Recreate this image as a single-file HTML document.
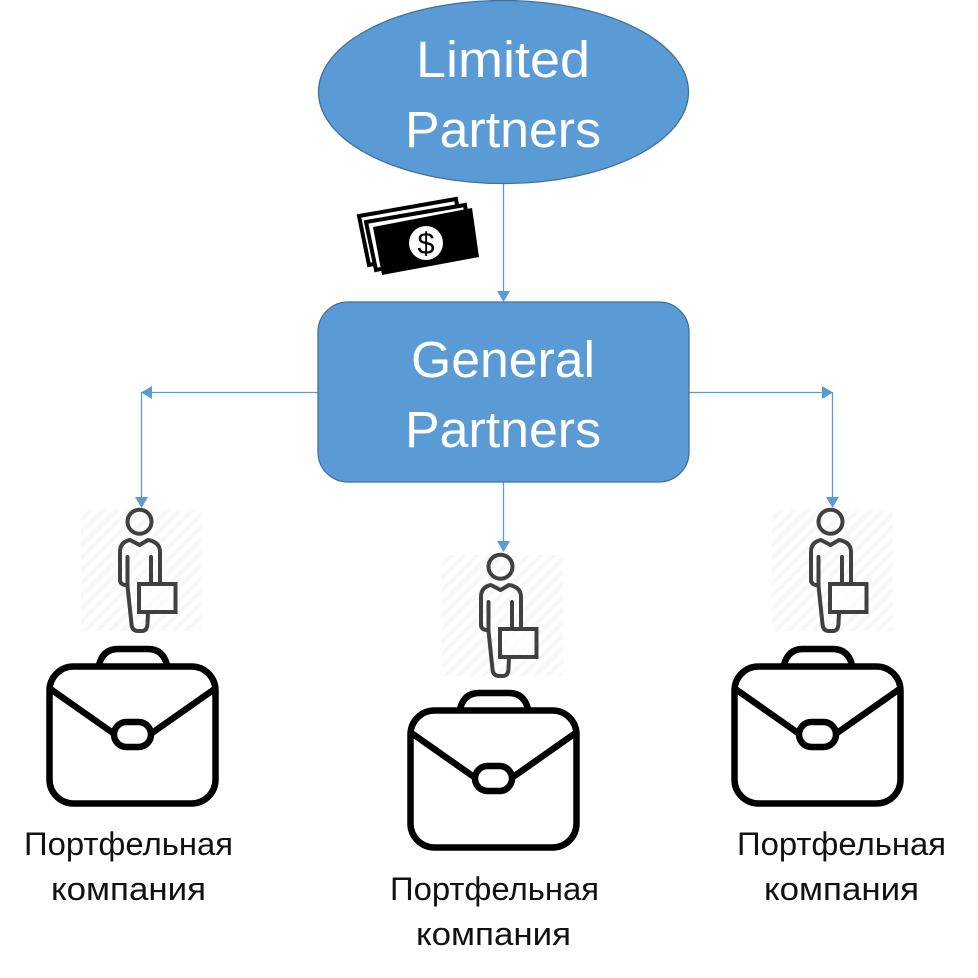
<!DOCTYPE html>
<html>
<head>
<meta charset="utf-8">
<style>
html,body{margin:0;padding:0;background:#fff;width:978px;height:978px;overflow:hidden}
svg{display:block}
text{font-family:"Liberation Sans","Noto Sans CJK JP",sans-serif}
.w{fill:#fff;font-size:51px}
.b{fill:#111;font-size:32px}
</style>
</head>
<body>
<svg width="978" height="978" viewBox="0 0 978 978" xmlns="http://www.w3.org/2000/svg">
<defs>
<pattern id="h" width="9" height="9" patternUnits="userSpaceOnUse" patternTransform="rotate(45)">
<rect width="9" height="9" fill="#fff"/>
<rect width="4" height="9" fill="#f7f7f7"/>
</pattern>
<g id="person">
<rect x="81" y="510" width="121" height="121" fill="url(#h)"/>
<circle cx="139.5" cy="521.7" r="12" fill="none" stroke="#404040" stroke-width="4"/>
<path d="M139.5 545 L130 540 Q120 542 120 552 L120 580 Q120 584 125 585 M139.5 545 L148 540 Q160 542 160 552 L160 584 M127.5 557 L127.5 586 L131.5 624 Q132 631 138 631 L142 631 Q147 631 147.500 624 L148 612 M151 557 L151 584" fill="none" stroke="#404040" stroke-width="4" stroke-linecap="round" stroke-linejoin="round"/>
<rect x="139" y="584" width="36.500" height="28" fill="#fff" fill-opacity="0.6" stroke="#404040" stroke-width="4"/>
</g>
<g id="case" fill="none" stroke="#000" stroke-width="6.500">
<path d="M99 665 Q103 649 118 649 L148 649 Q163 649 167 665"/>
<rect x="49.500" y="666.500" width="166" height="137" rx="24" fill="#fff"/>
<path d="M49 688 L113 733 M216 688 L152 733"/>
<rect x="114" y="722" width="37" height="25" rx="12.500" fill="#fff"/>
</g>
</defs>

<!-- connectors -->
<g fill="none" stroke="#5b9bd5" stroke-width="1.300">
<path d="M503.500 184 V294"/>
<path d="M318 392.500 H141.500 V500"/>
<path d="M689 392.500 H832.500 V500"/>
<path d="M503.500 482 V542"/>
</g>
<g fill="#5b9bd5">
<path d="M497 291 H510 L503.500 302 Z"/>
<path d="M152 386 V399 L141 392.500 Z"/>
<path d="M822 386 V399 L833 392.500 Z"/>
<path d="M135 497 H148 L141.500 508 Z"/>
<path d="M826 497 H839 L832.500 508 Z"/>
<path d="M497 541 H510 L503.500 552 Z"/>
</g>

<!-- nodes -->
<ellipse cx="503.500" cy="92" rx="185" ry="91.500" fill="#5b9bd5" stroke="#41719c" stroke-width="1.300"/>
<rect x="318" y="302" width="371" height="180" rx="30" fill="#5b9bd5" stroke="#41719c" stroke-width="1.300"/>
<text class="w" x="416" y="77" textLength="174" lengthAdjust="spacingAndGlyphs">Limited</text>
<text class="w" x="405" y="147" textLength="196" lengthAdjust="spacingAndGlyphs">Partners</text>
<text class="w" x="411" y="377" textLength="184" lengthAdjust="spacingAndGlyphs">General</text>
<text class="w" x="405" y="447" textLength="196" lengthAdjust="spacingAndGlyphs">Partners</text>

<!-- money -->
<polygon points="359,216 456,199 464,245 369,265" fill="#fff" stroke="#000" stroke-width="4"/>
<polygon points="366,222 465,205 472,250 376,270" fill="#fff" stroke="#000" stroke-width="4"/>
<polygon points="373,227 472,208 479,257 382,275" fill="#000"/>
<circle cx="426" cy="243" r="17" fill="#fff"/>
<text x="426" y="254" text-anchor="middle" style="font-size:31px" fill="#000">$</text>

<!-- people -->
<use href="#person"/>
<use href="#person" x="361" y="45"/>
<use href="#person" x="691"/>

<!-- briefcases -->
<use href="#case"/>
<use href="#case" x="361" y="44"/>
<use href="#case" x="685"/>

<!-- labels -->
<text class="b" x="24" y="855" textLength="209" lengthAdjust="spacingAndGlyphs">Портфельная</text>
<text class="b" x="51" y="900" textLength="155" lengthAdjust="spacingAndGlyphs">компания</text>
<text class="b" x="390" y="900" textLength="209" lengthAdjust="spacingAndGlyphs">Портфельная</text>
<text class="b" x="416" y="945" textLength="155" lengthAdjust="spacingAndGlyphs">компания</text>
<text class="b" x="737" y="855" textLength="209" lengthAdjust="spacingAndGlyphs">Портфельная</text>
<text class="b" x="764" y="900" textLength="155" lengthAdjust="spacingAndGlyphs">компания</text>
</svg>
</body>
</html>
